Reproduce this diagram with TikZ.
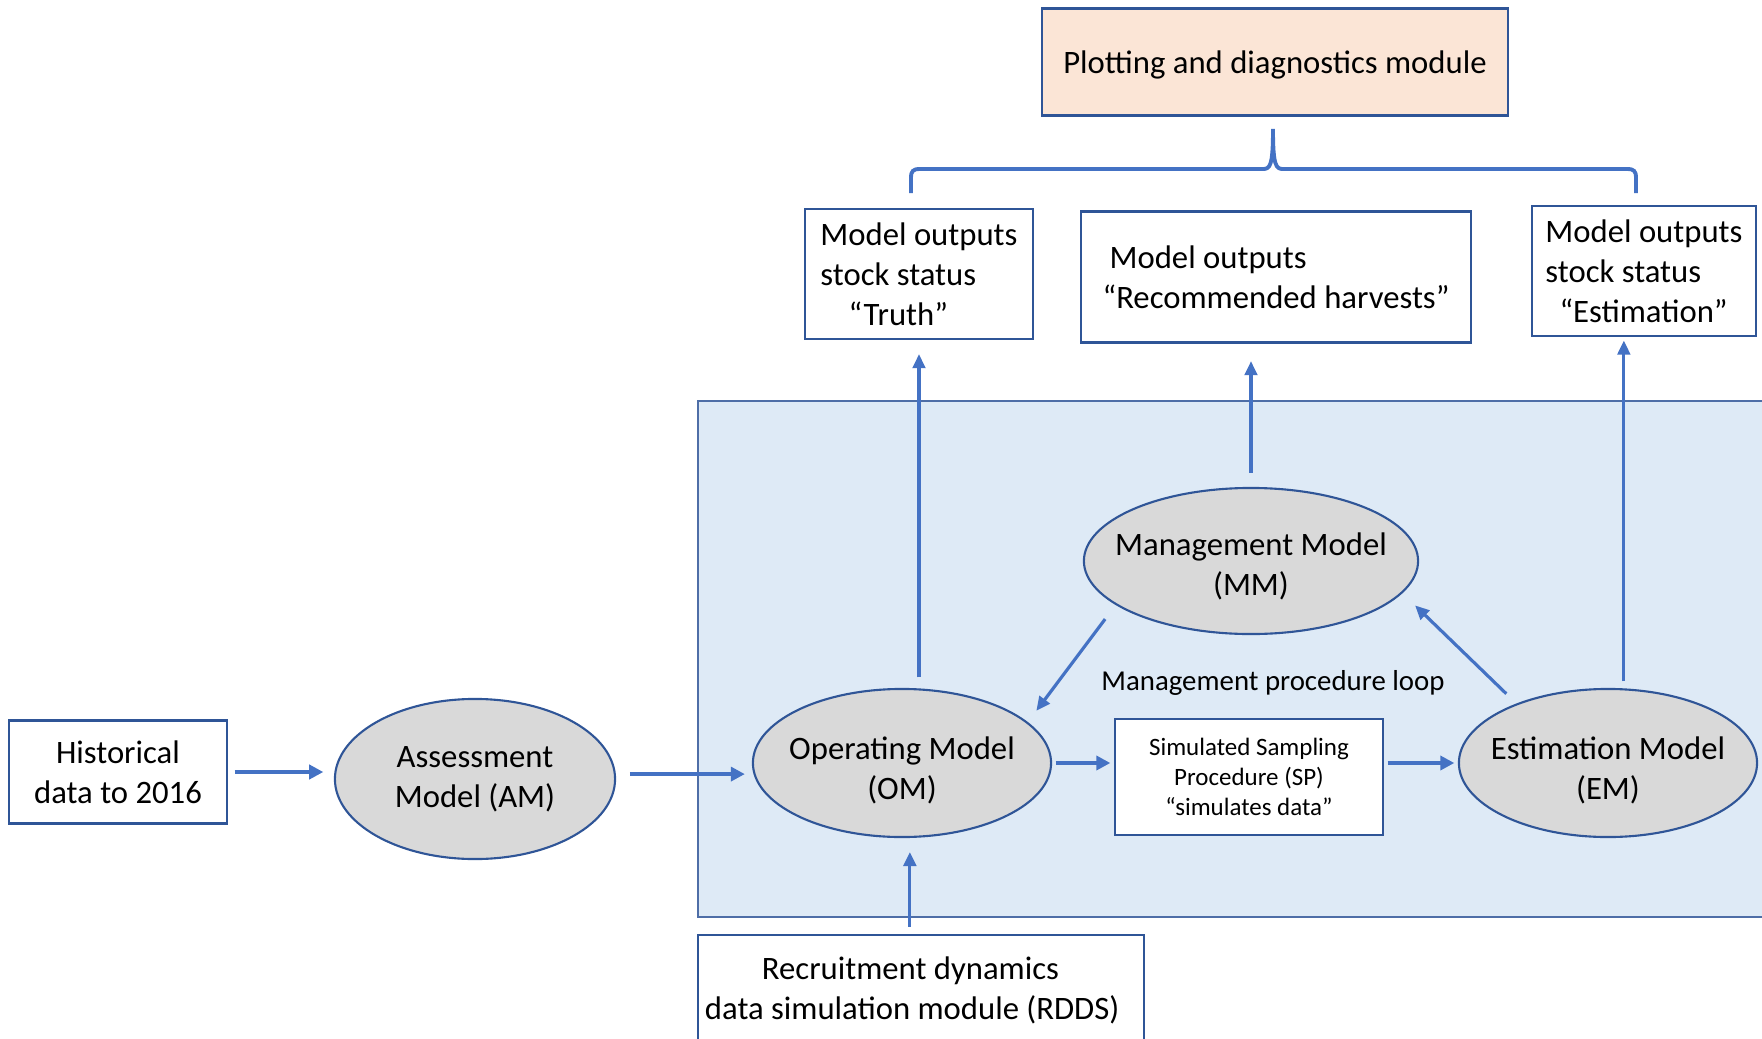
\documentclass[tikz,border=0pt]{standalone}
\usepackage{fontspec}
\setmainfont{Carlito}
\usetikzlibrary{arrows.meta, shapes.geometric}
\definecolor{flowblue}{HTML}{4472C4}
\definecolor{frameblue}{HTML}{2F5597}
\definecolor{modelgray}{HTML}{D9D9D9}
\definecolor{plotpeach}{HTML}{FBE5D6}
\definecolor{loopblue}{HTML}{DEEAF6}

\begin{document}
\begin{tikzpicture}[
  x=0.01cm, y=-0.01cm,
  box/.style={draw=frameblue, line width=0.6pt, fill=white, inner sep=0pt,
              font=\fontsize{9.3}{11.4}\selectfont},
  model/.style={ellipse, draw=frameblue, line width=0.6pt, fill=modelgray, inner sep=0pt},
  modeltext/.style={align=center, font=\fontsize{9.3}{11.4}\selectfont},
  flow/.style={line width=1.2pt, flowblue, -{Triangle[length=4pt, width=4pt]}},
  link/.style={line width=0.9pt, flowblue, -{Triangle[length=4pt, width=3.6pt]}},
]
\useasboundingbox (0,0) rectangle (1762,1039);

% management procedure loop region
\filldraw[fill=loopblue, draw=frameblue!85, line width=0.6pt] (698,401) rectangle (1790,917);

\node[box, fill=plotpeach, text depth=0pt, minimum width=4.66cm, minimum height=1.07cm] (plot) at (1275,62) {Plotting and diagnostics module};

\node[box, minimum width=2.27cm, minimum height=1.30cm, align=left] (truth) at (919,274)
  {Model outputs\\stock status\\\hspace*{8pt}“Truth”};
\node[box, minimum width=3.89cm, minimum height=1.31cm, align=left] (recom) at (1276,277)
  {\hspace*{2pt}Model outputs\\“Recommended harvests”};
\node[box, minimum width=2.24cm, minimum height=1.30cm, align=left] (estim) at (1644,271)
  {Model outputs\\stock status\\\hspace*{4pt}“Estimation”};

\node[box, minimum width=2.17cm, minimum height=1.03cm, align=center] (hist) at (118,772) {Historical\\data to 2016};
\node[model, minimum width=2.80cm, minimum height=1.60cm,
      label={[modeltext]center:Assessment\\Model (AM)}] (am) at (475,779) {};
\node[model, minimum width=2.98cm, minimum height=1.48cm,
      label={[modeltext, yshift=-2pt]center:Operating Model\\(OM)}] (om) at (902,763) {};
\node[model, minimum width=3.34cm, minimum height=1.46cm,
      label={[modeltext, yshift=-1.5pt]center:Management Model\\(MM)}] (mm) at (1251,561) {};
\node[model, minimum width=2.98cm, minimum height=1.48cm,
      label={[modeltext, yshift=-2pt]center:Estimation Model\\(EM)}] (em) at (1608,763) {};
\node[box, minimum width=2.68cm, minimum height=1.16cm, align=center,
      font=\fontsize{7.1}{8.6}\selectfont] (samp) at (1249,777)
  {Simulated Sampling\\Procedure (SP)\\“simulates data”};
\node[box, minimum width=4.46cm, minimum height=1.10cm, align=center] (rdds) at (921,990)
  {Recruitment dynamics\hspace*{6pt}\\data simulation module (RDDS)\hspace*{5pt}};
\node[font=\fontsize{8.2}{10}\selectfont] (looplbl) at (1273,683) {Management procedure loop};

% outputs gathered into the plotting module
\draw[flowblue, line width=1.1pt]
  (911,193) -- (911,178) .. controls (911,171) and (913,169) .. (920,169) -- (1263,169)
  .. controls (1270,169) and (1273,166) .. (1273,129)
  .. controls (1273,166) and (1276,169) .. (1283,169) -- (1627,169)
  .. controls (1634,169) and (1636,171) .. (1636,178) -- (1636,193);

\draw[flow, shorten <=2pt, shorten >=3pt] (hist.east) -- (hist.east -| am.west);
\draw[flow, shorten <=4pt, shorten >=2pt] (am.2) -- (am.2 -| om.west);
\draw[flow, shorten <=1pt, shorten >=1pt] (om.east) -- (om.east -| samp.west);
\draw[flow, shorten <=1pt, shorten >=1pt] (em.west -| samp.east) -- (em.west);

\draw[link, shorten <=3pt, shorten >=4pt] (truth.south |- om.north) -- (truth.south);
\draw[link, shorten <=4pt, shorten >=5pt] (mm.north) -- (mm.north |- recom.south);
\draw[link, shorten <=2pt, shorten >=1pt] (em.78) -- (em.78 |- estim.south);
\draw[link, shorten <=2pt, shorten >=4pt] (om.-84 |- rdds.north) -- (om.-84);

\draw[link, shorten <=5pt, shorten >=4pt] (mm.198) -- (om.18);
\draw[link, shorten <=4pt, shorten >=5pt] (em.147) -- (mm.-12);

\end{tikzpicture}
\end{document}
